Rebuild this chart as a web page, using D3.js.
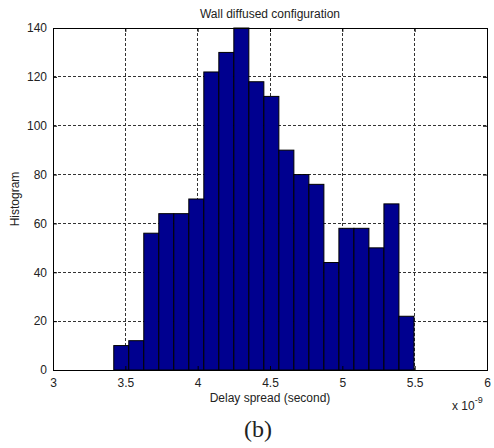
<!DOCTYPE html>
<html>
<head>
<meta charset="utf-8">
<script src="https://cdn.jsdelivr.net/npm/d3@7"></script>
<style>
  body { margin: 0; background: #fff; }
  svg text { font-family: "Liberation Sans", Arial, sans-serif; fill: #222; }
</style>
</head>
<body>
<div id="chart-area"><svg></svg></div>
<script>
// bin edges (x 1e-9 s) and counts
const binStart = 3.42;
const binEnd = 5.495;
const counts = [10, 12, 56, 64, 64, 70, 122, 130, 140, 118, 112, 90, 80, 76, 44, 58, 58, 50, 68, 22];
const xTicks = [3, 3.5, 4, 4.5, 5, 5.5, 6];
const yTicks = [0, 20, 40, 60, 80, 100, 120, 140];

const chartSize = { width: 494, height: 448 };
const margin = { left: 53, right: 7, top: 28, bottom: 78 };
const width = chartSize.width - margin.left - margin.right;
const height = chartSize.height - margin.top - margin.bottom;

const binW = (binEnd - binStart) / counts.length;
const bins = counts.map((c, i) => ({ x0: binStart + i * binW, x1: binStart + (i + 1) * binW, count: c }));

const svg = d3.select('#chart-area svg')
  .attr("width", chartSize.width)
  .attr("height", chartSize.height);

const x = d3.scaleLinear().domain([3, 6]).range([0, width]);
const y = d3.scaleLinear().domain([0, 140]).range([height, 0]);

const g = svg.append("g")
  .attr("transform", `translate(${margin.left},${margin.top})`);

// grid
g.selectAll(".gx").data(xTicks.slice(1, -1)).join("line")
  .attr("x1", d => x(d)).attr("x2", d => x(d))
  .attr("y1", 0).attr("y2", height)
  .attr("stroke", "#333").attr("stroke-width", 1)
  .attr("stroke-dasharray", "3,2")
  .attr("shape-rendering", "crispEdges");

g.selectAll(".gy").data(yTicks.slice(1, -1)).join("line")
  .attr("x1", 0).attr("x2", width)
  .attr("y1", d => y(d)).attr("y2", d => y(d))
  .attr("stroke", "#333").attr("stroke-width", 1)
  .attr("stroke-dasharray", "3,2")
  .attr("shape-rendering", "crispEdges");

// bars
g.selectAll("rect.bar").data(bins).join("rect")
  .attr("class", "bar")
  .attr("x", d => x(d.x0))
  .attr("y", d => y(d.count))
  .attr("width", d => x(d.x1) - x(d.x0))
  .attr("height", d => y(0) - y(d.count))
  .attr("fill", "#00008f")
  .attr("stroke", "#000")
  .attr("stroke-width", 1);

// axes box
g.append("rect")
  .attr("x", 0).attr("y", 0)
  .attr("width", width).attr("height", height)
  .attr("fill", "none").attr("stroke", "#000")
  .attr("shape-rendering", "crispEdges");

const xAxis = d3.axisBottom(x).tickValues(xTicks).tickSize(-4).tickPadding(8)
  .tickFormat(d3.format("~g"));
const yAxis = d3.axisLeft(y).tickValues(yTicks).tickSize(-4).tickPadding(6);

g.append("g").attr("class", "x-axis")
  .attr("transform", `translate(0,${height})`)
  .call(xAxis);
g.append("g").attr("class", "y-axis")
  .call(yAxis);

// mirrored ticks on top and right
g.append("g").attr("class", "x-top")
  .call(d3.axisTop(x).tickValues(xTicks).tickSize(-4).tickFormat(""));
g.append("g").attr("class", "y-right")
  .attr("transform", `translate(${width},0)`)
  .call(d3.axisRight(y).tickValues(yTicks).tickSize(-4).tickFormat(""));

svg.selectAll(".domain").remove();
svg.selectAll(".tick line").attr("stroke", "#000");
svg.selectAll(".tick text")
  .style("font-size", "12px")
  .style("font-family", "'Liberation Sans', Arial, sans-serif")
  .attr("fill", "#222");

// labels
svg.append("text")
  .attr("x", margin.left + width / 2).attr("y", 18)
  .attr("text-anchor", "middle")
  .style("font-size", "12px")
  .text("Wall diffused configuration");

svg.append("text")
  .attr("transform", `rotate(-90)`)
  .attr("x", -(margin.top + height / 2)).attr("y", 19)
  .attr("text-anchor", "middle")
  .style("font-size", "12px")
  .text("Histogram");

svg.append("text")
  .attr("x", margin.left + width / 2).attr("y", 402)
  .attr("text-anchor", "middle")
  .style("font-size", "12px")
  .text("Delay spread (second)");

const exp = svg.append("text")
  .attr("x", 452).attr("y", 410)
  .style("font-size", "12px");
exp.append("tspan").text("x 10");
exp.append("tspan").attr("dy", -7).style("font-size", "9px").text("-9");

svg.append("text")
  .attr("x", 258).attr("y", 437)
  .attr("text-anchor", "middle")
  .style("font-family", "'Liberation Serif', 'Times New Roman', serif")
  .style("font-size", "24px")
  .attr("fill", "#000")
  .text("(b)");
</script>
</body>
</html>
